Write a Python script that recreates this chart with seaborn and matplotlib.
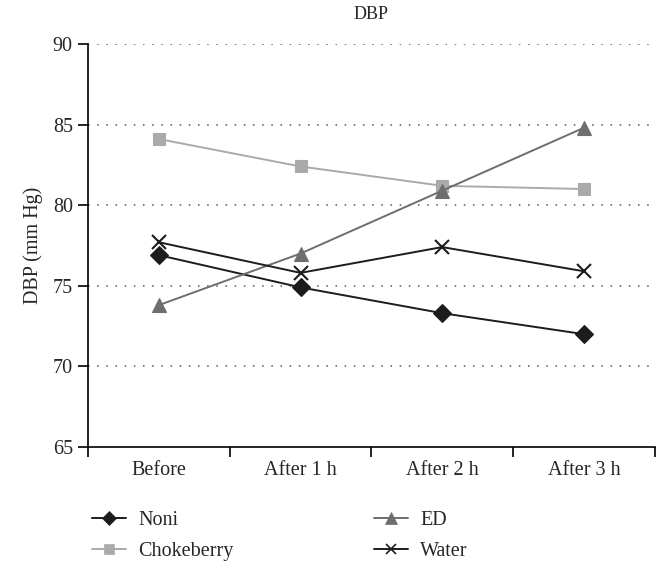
import matplotlib
matplotlib.use("Agg")
import matplotlib.pyplot as plt
import seaborn as sns
import pandas as pd
from matplotlib.lines import Line2D
from matplotlib.ticker import FixedLocator

categories = ["Before", "After 1 h", "After 2 h", "After 3 h"]
noni = [76.9, 74.9, 73.3, 72.0]
chokeberry = [84.1, 82.4, 81.2, 81.0]
ed = [73.8, 77.0, 80.9, 84.8]
water = [77.7, 75.8, 77.4, 75.9]
y_ticks = [65, 70, 75, 80, 85, 90]

series = [
    ("Noni", noni, "#1c1c1c", "D", 9, "#1c1c1c"),
    ("Chokeberry", chokeberry, "#aaaaaa", "s", 9, "#aaaaaa"),
    ("ED", ed, "#6e6e6e", "^", 10, "#6e6e6e"),
    ("Water", water, "#1c1c1c", "x", 10, "#1c1c1c"),
]

sns.set_theme(style="white")
plt.rcParams["font.family"] = ["Liberation Serif", "DejaVu Serif"]

fig = plt.figure(figsize=(6.62, 5.75), dpi=100)
ax = fig.add_axes([0.133, 0.2226, 0.856, 0.701])

order_map = {c: i for i, c in enumerate(categories)}
for name, vals, col, mk, ms, mec in series:
    df = pd.DataFrame({"x": [order_map[c] for c in categories], "y": vals})
    sns.lineplot(data=df, x="x", y="y", ax=ax, color=col, marker=mk,
                 markersize=ms, markeredgecolor=mec, markeredgewidth=1.5 if mk == "x" else 0.8,
                 linewidth=1.4, legend=False, zorder=3)

ax.set_xlim(-0.5, 3.5)
ax.set_ylim(65, 90)
ax.set_yticks(y_ticks)
ax.set_yticklabels([str(t) for t in y_ticks], fontsize=14.5)
ax.set_xticks(range(len(categories)))
ax.set_xticklabels(categories, fontsize=14.5)
ax.tick_params(axis="x", which="major", length=0, pad=10)
ax.xaxis.set_minor_locator(FixedLocator([-0.5, 0.5, 1.5, 2.5, 3.5]))
ax.tick_params(axis="x", which="minor", length=7, width=1.2, color="black", direction="out", bottom=True)
ax.tick_params(axis="y", which="major", length=7, width=1.2, color="black", direction="out", left=True, pad=4)

for y in y_ticks[1:]:
    ax.axhline(y, color="#555555", linestyle=(0, (1, 5)), linewidth=1.1, zorder=1)

for s in ["top", "right"]:
    ax.spines[s].set_visible(False)
for s in ["left", "bottom"]:
    ax.spines[s].set_color("black")
    ax.spines[s].set_linewidth(1.2)

ax.set_xlabel("")
ax.set_ylabel("DBP (mm Hg)", fontsize=14.5, labelpad=7)
ax.set_title("DBP", fontsize=13, pad=18)

handles = []
for name, vals, col, mk, ms, mec in series:
    handles.append(Line2D([0], [0], color=col, marker=mk, markersize=7 if mk != "^" else 8,
                          markeredgecolor=mec, markeredgewidth=1.2 if mk == "x" else 0.5,
                          linewidth=1.4, label=name))
fig.legend(handles=handles, ncol=2, loc="upper left", bbox_to_anchor=(0.127, 0.125),
           frameon=False, fontsize=14.5, handlelength=1.7, handletextpad=0.6,
           columnspacing=6.95, labelspacing=0.6, borderaxespad=0)

fig.savefig("out.png", dpi=100)
